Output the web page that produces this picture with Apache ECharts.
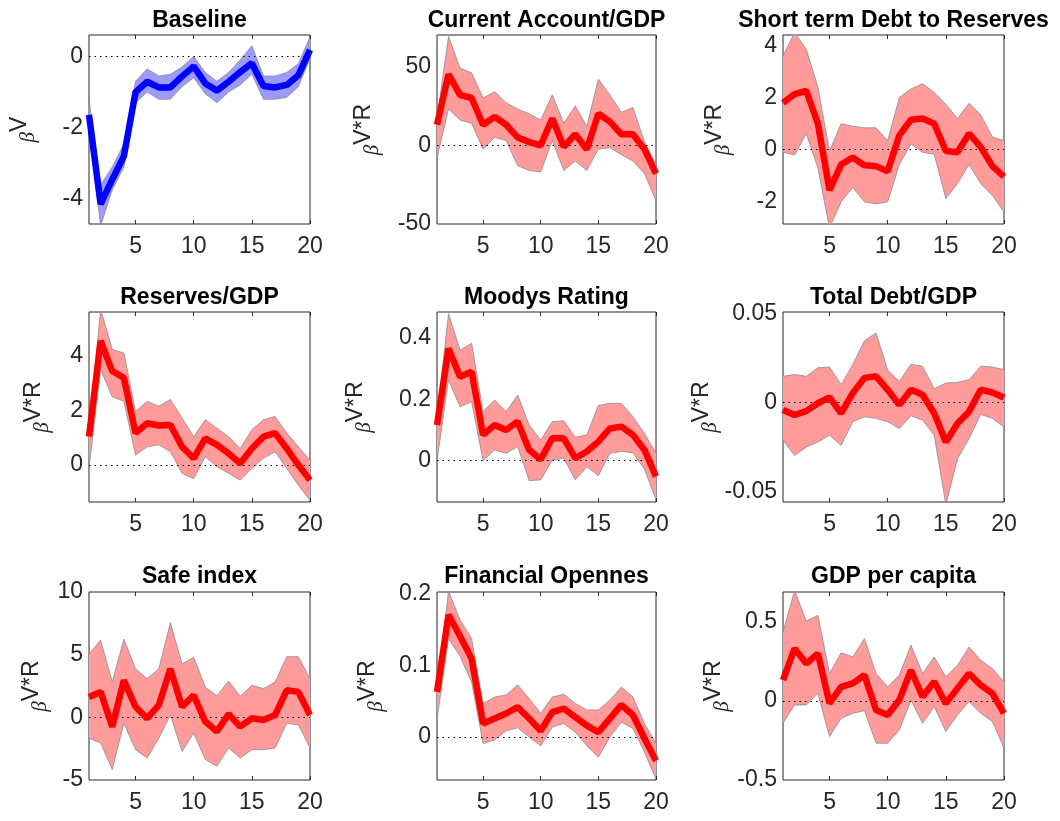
<!DOCTYPE html>
<html>
<head>
<meta charset="utf-8">
<script src="https://cdn.jsdelivr.net/npm/echarts@6/dist/echarts.min.js"></script>
<style>
  html, body { margin: 0; padding: 0; background: #fff; }
  #chart { width: 1060px; height: 821px; }
</style>
</head>
<body>
<div id="chart"></div>
<script>
// horizons on the x axis
const horizon = [1, 2, 3, 4, 5, 6, 7, 8, 9, 10, 11, 12, 13, 14, 15, 16, 17, 18, 19, 20];
const xTicks = [5, 10, 15, 20];

const titles = ['Baseline', 'Current Account/GDP', 'Short term Debt to Reserves',
  'Reserves/GDP', 'Moodys Rating', 'Total Debt/GDP',
  'Safe index', 'Financial Opennes', 'GDP per capita'];

// Baseline
const baseMid = [-1.64, -4.14, -3.45, -2.8, -1.0, -0.71, -0.87, -0.87, -0.56, -0.28, -0.76, -0.96, -0.71, -0.44, -0.19, -0.83, -0.87, -0.8, -0.53, 0.18];
const baseHi = [-1.2, -3.6, -3.1, -2.45, -0.7, -0.35, -0.55, -0.5, -0.3, 0.0, -0.45, -0.7, -0.45, -0.1, 0.3, -0.55, -0.55, -0.45, -0.2, 0.55];
const baseLo = [-2.1, -4.75, -3.75, -3.1, -1.3, -1.0, -1.2, -1.2, -0.85, -0.6, -1.05, -1.3, -1.0, -0.8, -0.5, -1.2, -1.2, -1.15, -0.85, -0.05];
const baseTicks = [-4, -2, 0];

// Current Account/GDP
const caMid = [13, 45, 32, 30, 13, 18, 13, 5, 2, 0, 17, -1, 7, -2.5, 20, 15, 7, 7, -2.5, -18];
const caHi = [17, 69, 49, 46, 30, 34, 27, 23, 20, 16, 32, 14, 25, 12, 42, 32, 21, 24, 2, -12];
const caLo = [-8, 23, 16, 14, -2.5, 5, 3, -13, -16, -17, 3, -16, -10, -16, -2.5, -1.5, -6, -10, -18, -35];
const caTicks = [-50, 0, 50];

// Short term Debt to Reserves
const stMid = [1.8, 2.13, 2.26, 1.0, -1.55, -0.57, -0.3, -0.6, -0.63, -0.83, 0.55, 1.15, 1.2, 1.0, -0.05, -0.1, 0.62, 0.1, -0.63, -1.03];
const stHi = [3.6, 4.5, 3.85, 2.4, -0.05, 1.0, 0.9, 0.84, 0.84, 0.35, 2.0, 2.33, 2.53, 2.2, 1.74, 1.2, 1.78, 1.34, 0.49, 0.35];
const stLo = [-0.1, -0.2, 0.62, -0.7, -3.0, -2.0, -1.45, -2.0, -2.08, -2.0, -0.57, 0.22, -0.1, -0.17, -1.88, -1.3, -0.57, -1.3, -1.75, -2.4];
const stTicks = [-2, 0, 2, 4];

// Reserves/GDP
const resMid = [1.04, 4.54, 3.44, 3.19, 1.17, 1.53, 1.45, 1.47, 0.67, 0.25, 0.98, 0.74, 0.43, 0.06, 0.61, 1.04, 1.17, 0.61, 0.0, -0.55];
const resHi = [1.2, 5.7, 4.23, 4.1, 1.96, 2.33, 2.15, 2.4, 1.72, 1.04, 1.66, 1.35, 1.04, 0.61, 1.29, 1.66, 1.78, 1.17, 0.67, 0.18];
const resLo = [-0.1, 3.5, 2.5, 2.33, 0.37, 0.67, 0.74, 0.49, -0.3, -0.5, 0.31, -0.06, -0.3, -0.55, -0.12, 0.25, 0.49, -0.12, -0.74, -1.29];
const resTicks = [0, 2, 4];

// Moodys Rating
const mdyMid = [0.116, 0.366, 0.274, 0.29, 0.084, 0.116, 0.1, 0.127, 0.035, 0.004, 0.073, 0.073, 0.008, 0.03, 0.062, 0.105, 0.111, 0.084, 0.035, -0.052];
const mdyHi = [0.14, 0.48, 0.36, 0.383, 0.16, 0.198, 0.16, 0.214, 0.116, 0.067, 0.127, 0.13, 0.076, 0.084, 0.18, 0.187, 0.187, 0.143, 0.089, 0.024];
const mdyLo = [0.0, 0.263, 0.176, 0.192, 0.0, 0.035, 0.024, 0.046, -0.065, -0.063, 0.002, 0.008, -0.063, -0.02, -0.049, 0.024, 0.03, 0.026, -0.028, -0.128];
const mdyTicks = [0, 0.2, 0.4];

// Total Debt/GDP
const debtMid = [-0.0042, -0.007, -0.0048, -0.0004, 0.0029, -0.006, 0.0053, 0.0139, 0.0148, 0.0072, -0.0013, 0.0072, 0.0044, -0.006, -0.0222, -0.0118, -0.0051, 0.0072, 0.0057, 0.0029];
const debtHi = [0.0148, 0.0158, 0.0148, 0.0196, 0.02, 0.0101, 0.0215, 0.0348, 0.0392, 0.0183, 0.012, 0.0215, 0.0205, 0.0078, 0.011, 0.0114, 0.0129, 0.0205, 0.02, 0.0186];
const debtLo = [-0.0213, -0.0298, -0.0251, -0.0222, -0.0184, -0.0241, -0.0108, -0.008, -0.0089, -0.0108, -0.0146, -0.0074, -0.0099, -0.0184, -0.0574, -0.0317, -0.0203, -0.0067, -0.0089, -0.0137];
const debtTicks = [-0.05, 0, 0.05];

// Safe index
const safeMid = [1.63, 2.03, -0.74, 2.95, 0.84, -0.08, 0.97, 3.87, 0.84, 1.76, -0.34, -1.13, 0.26, -0.74, -0.08, -0.21, 0.18, 2.16, 2.03, 0.18];
const safeHi = [5.05, 6.16, 2.82, 6.24, 3.87, 3.08, 3.87, 7.55, 4.26, 4.79, 2.42, 1.71, 2.9, 1.68, 2.55, 2.29, 2.82, 4.84, 4.84, 3.08];
const safeLo = [-1.66, -2.05, -4.16, -0.47, -2.58, -3.24, -1.66, 0.18, -2.71, -1.26, -3.37, -3.9, -2.45, -3.24, -2.58, -2.58, -2.45, -0.47, -0.6, -2.45];
const safeTicks = [-5, 0, 5, 10];

// Financial Opennes
const openMid = [0.063, 0.171, 0.141, 0.11, 0.019, 0.026, 0.033, 0.042, 0.026, 0.009, 0.035, 0.04, 0.028, 0.016, 0.007, 0.026, 0.045, 0.031, -0.002, -0.033];
const openHi = [0.068, 0.204, 0.164, 0.138, 0.047, 0.056, 0.059, 0.073, 0.054, 0.033, 0.056, 0.06, 0.047, 0.038, 0.038, 0.052, 0.07, 0.056, 0.019, -0.009];
const openLo = [0.025, 0.138, 0.113, 0.077, -0.009, -0.004, 0.009, 0.013, 0.0, -0.012, 0.014, 0.019, 0.007, -0.012, -0.028, 0.0, 0.021, 0.012, -0.021, -0.059];
const openTicks = [0, 0.1, 0.2];

// GDP per capita
const gdpMid = [0.132, 0.332, 0.237, 0.3, -0.015, 0.09, 0.111, 0.164, -0.057, -0.088, 0.006, 0.195, 0.027, 0.122, -0.015, 0.08, 0.174, 0.1, 0.048, -0.078];
const gdpHi = [0.437, 0.70, 0.506, 0.542, 0.174, 0.305, 0.279, 0.395, 0.174, 0.09, 0.164, 0.353, 0.174, 0.279, 0.153, 0.227, 0.342, 0.258, 0.206, 0.122];
const gdpLo = [-0.141, -0.025, -0.025, 0.048, -0.225, -0.109, -0.078, -0.061, -0.267, -0.267, -0.183, 0.006, -0.141, -0.036, -0.193, -0.088, -0.004, -0.078, -0.13, -0.298];
const gdpTicks = [-0.5, 0, 0.5];

// panel setup (axis range, label, gap of y label)
let panels = [
  { mid: baseMid, hi: baseHi, lo: baseLo, ticks: baseTicks, min: -4.7, max: 0.6, sup: 'V', gap: 50, blue: true },
  { mid: caMid, hi: caHi, lo: caLo, ticks: caTicks, min: -50, max: 70, sup: 'V*R', gap: 54 },
  { mid: stMid, hi: stHi, lo: stLo, ticks: stTicks, min: -2.85, max: 4.4, sup: 'V*R', gap: 49 },
  { mid: resMid, hi: resHi, lo: resLo, ticks: resTicks, min: -1.35, max: 5.6, sup: 'V*R', gap: 36 },
  { mid: mdyMid, hi: mdyHi, lo: mdyLo, ticks: mdyTicks, min: -0.135, max: 0.485, sup: 'V*R', gap: 62 },
  { mid: debtMid, hi: debtHi, lo: debtLo, ticks: debtTicks, min: -0.056, max: 0.051, sup: 'V*R', gap: 48 },
  { mid: safeMid, hi: safeHi, lo: safeLo, ticks: safeTicks, min: -5, max: 10, sup: 'V*R', gap: 38 },
  { mid: openMid, hi: openHi, lo: openLo, ticks: openTicks, min: -0.06, max: 0.203, sup: 'V*R', gap: 50 },
  { mid: gdpMid, hi: gdpHi, lo: gdpLo, ticks: gdpTicks, min: -0.5, max: 0.69, sup: 'V*R', gap: 50 }
];

const colLeft = [89, 437, 783];
const colWidth = [221, 219, 221];
const rowTop = [35, 312, 592];
const rowHeight = [189, 190, 188];
const titleTop = [9, 286, 565];

const ink = '#262626';
const font = "'Liberation Sans', Arial, sans-serif";

let grids = [], xAxes = [], yAxes = [], series = [], titleList = [];
let showTick = (i, v) => xTicks.indexOf(Number(v)) >= 0;

panels.forEach((p, k) => {
  let r = Math.floor(k / 3), c = k % 3;
  grids.push({
    left: colLeft[c], top: rowTop[r], width: colWidth[c], height: rowHeight[r],
    show: true, borderColor: ink, borderWidth: 1, backgroundColor: '#fff'
  });
  titleList.push({
    text: titles[k], left: colLeft[c] + colWidth[c] / 2, top: titleTop[r], textAlign: 'center', padding: 0,
    textStyle: { fontFamily: font, fontWeight: 'bold', fontSize: 23, color: '#000' }
  });
  // bottom and top x axis
  xAxes.push({
    type: 'category', gridIndex: k, data: horizon, boundaryGap: false,
    axisLine: { show: false, onZero: false },
    axisTick: { inside: true, length: 4, interval: showTick, lineStyle: { color: ink } },
    axisLabel: { interval: showTick, color: ink, fontFamily: font, fontSize: 23, margin: 11 },
    splitLine: { show: false }
  });
  xAxes.push({
    type: 'category', gridIndex: k, data: horizon, boundaryGap: false, position: 'top',
    axisLine: { show: false, onZero: false },
    axisTick: { inside: true, length: 4, interval: showTick, lineStyle: { color: ink } },
    axisLabel: { show: false }, splitLine: { show: false }
  });
  yAxes.push({
    type: 'value', gridIndex: k, min: p.min, max: p.max,
    axisLine: { show: false, onZero: false },
    axisTick: { inside: true, length: 4, customValues: p.ticks, lineStyle: { color: ink } },
    axisLabel: { customValues: p.ticks, color: ink, fontFamily: font, fontSize: 23, margin: 6 },
    splitLine: { show: false },
    name: '{b|β}{s|' + p.sup + '}', nameLocation: 'middle', nameRotate: 90, nameGap: p.gap,
    nameTextStyle: {
      rich: {
        b: { fontFamily: "'Liberation Serif', serif", fontStyle: 'italic', fontSize: 21, color: ink,
             verticalAlign: 'bottom', padding: [10, 0, 0, 0] },
        s: { fontFamily: font, fontSize: 23, color: ink, verticalAlign: 'top' }
      }
    }
  });
  yAxes.push({
    type: 'value', gridIndex: k, min: p.min, max: p.max, position: 'right',
    axisLine: { show: false, onZero: false },
    axisTick: { inside: true, length: 4, customValues: p.ticks, lineStyle: { color: ink } },
    axisLabel: { show: false }, splitLine: { show: false }
  });

  let lineColor = p.blue ? '#0000ff' : '#ff0000';
  let bandColor = p.blue ? '#9b9bff' : '#ff9b9b';
  let edge = '#8c8c8c';
  series.push({
    type: 'line', xAxisIndex: 2 * k, yAxisIndex: 2 * k, data: p.lo,
    stack: 'band' + k, stackStrategy: 'all', symbol: 'none', silent: true, z: 1,
    lineStyle: { color: edge, width: 0.8 }
  });
  series.push({
    type: 'line', xAxisIndex: 2 * k, yAxisIndex: 2 * k, data: p.hi.map((h, i) => h - p.lo[i]),
    stack: 'band' + k, stackStrategy: 'all', symbol: 'none', silent: true, z: 1,
    lineStyle: { color: edge, width: 0.8 },
    areaStyle: { color: bandColor, opacity: 1 },
    markLine: {
      silent: true, symbol: ['none', 'none'], z: 2, label: { show: false },
      lineStyle: { type: [1.5, 4], color: '#000', width: 1.2 },
      data: [{ yAxis: 0 }]
    }
  });
  series.push({
    type: 'line', xAxisIndex: 2 * k, yAxisIndex: 2 * k, data: p.mid,
    symbol: 'none', silent: true, z: 3, clip: false,
    lineStyle: { color: lineColor, width: 6.5 }
  });
});

let chart = echarts.init(document.getElementById('chart'));
chart.setOption({
  animation: false,
  backgroundColor: '#fff',
  title: titleList,
  grid: grids,
  xAxis: xAxes,
  yAxis: yAxes,
  series: series
});
</script>
</body>
</html>
